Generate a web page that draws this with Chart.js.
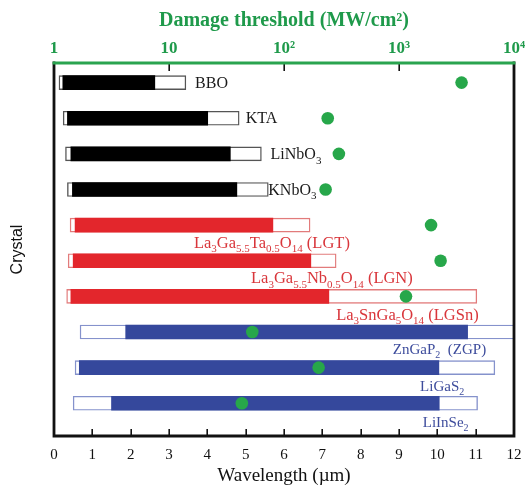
<!DOCTYPE html>
<html>
<head>
<meta charset="utf-8">
<script src="https://cdn.jsdelivr.net/npm/chart.js@4"></script>
<style>
  html, body { margin: 0; padding: 0; background: #ffffff; }
  #c { display: block; }
</style>
</head>
<body>
<canvas id="c" width="526" height="495"></canvas>
<script>
// Nonlinear optical crystals: transparency window, working range and damage threshold
const crystals = ['BBO', 'KTA', 'LiNbO3', 'KNbO3', 'LGT', 'LGN', 'LGSn', 'ZGP', 'LiGaS2', 'LiInSe2'];
const crystalLabels = [
  'BBO', 'KTA', 'LiNbO_{3}', 'KNbO_{3}',
  'La_{3}Ga_{5.5}Ta_{0.5}O_{14} (LGT)',
  'La_{3}Ga_{5.5}Nb_{0.5}O_{14} (LGN)',
  'La_{3}SnGa_{5}O_{14} (LGSn)',
  'ZnGaP_{2}  (ZGP)', 'LiGaS_{2}', 'LiInSe_{2}'
];
const families = ['oxide', 'oxide', 'oxide', 'oxide', 'langasite', 'langasite', 'langasite', 'chalcogenide', 'chalcogenide', 'chalcogenide'];

// wavelength ranges, µm
const transparencyStart = [0.13, 0.24, 0.30, 0.35, 0.42, 0.37, 0.33, 0.68, 0.55, 0.50];
const transparencyEnd   = [3.44, 4.83, 5.41, 5.59, 6.68, 7.36, 11.03, 12.3, 11.50, 11.05];
const workingStart      = [0.23, 0.35, 0.44, 0.48, 0.55, 0.50, 0.44, 1.87, 0.66, 1.50];
const workingEnd        = [2.63, 4.01, 4.60, 4.77, 5.71, 6.70, 7.17, 10.79, 10.04, 10.05];

// laser damage threshold, MW/cm²
const damageThreshold = [3500, 240, 300, 230, 1900, 2300, 1150, 53, 200, 43];

const wavelengthTicks = [0, 1, 2, 3, 4, 5, 6, 7, 8, 9, 10, 11, 12];
const thresholdTicks = [1, 10, 100, 1000, 10000];
const thresholdTickText = ['1', '10', '10²', '10³', '10⁴'];

// styling
const GREEN = '#1f9a4b';
const DOT_GREEN = '#27a74a';
const palette = {
  oxide:        { fill: '#000000', edge: '#555555', text: '#1a1a1a', size: 16 },
  langasite:    { fill: '#e3262c', edge: '#e27b7b', text: '#d9363b', size: 16.5 },
  chalcogenide: { fill: '#35489c', edge: '#8592cc', text: '#3d4c9c', size: 15 }
};
// label anchor: left edge in µm, vertical offset from the bar centre in px
const labelPlacement = [
  { x: 3.68, dy: 0 }, { x: 5.00, dy: 0 }, { x: 5.65, dy: 0 }, { x: 5.59, dy: 0 },
  { x: 3.65, dy: 17 }, { x: 5.14, dy: 17 }, { x: 7.36, dy: 18 },
  { x: 8.84, dy: 17 }, { x: 9.55, dy: 18 }, { x: 9.62, dy: 19 }
];

const rows = crystals.map((_, i) => i);
const SERIF = '"Liberation Serif", "Times New Roman", serif';

function drawRich(ctx, text, x, yMid, size, color) {
  const sub = Math.round(size * 0.68);
  const parts = text.split(/_\{([^}]*)\}/);
  const base = yMid + size * 0.33;
  ctx.fillStyle = color;
  ctx.textBaseline = 'alphabetic';
  ctx.textAlign = 'left';
  let cx = x;
  parts.forEach((p, k) => {
    if (!p) return;
    const isSub = k % 2 === 1;
    ctx.font = (isSub ? sub : size) + 'px ' + SERIF;
    ctx.fillText(p, cx, isSub ? base + size * 0.28 : base);
    cx += ctx.measureText(p).width;
  });
}

const labelPlugin = {
  id: 'crystalLabels',
  afterDatasetDraw(chart, args) {
    if (args.index !== 1) return;
    const { ctx, scales } = chart;
    ctx.save();
    crystalLabels.forEach((t, i) => {
      const st = palette[families[i]];
      const pl = labelPlacement[i];
      const x = scales.x.getPixelForValue(pl.x);
      const y = scales.y.getPixelForValue(rows[i]) + pl.dy;
      drawRich(ctx, t, x, y, st.size, st.text);
    });
    ctx.restore();
  }
};

const framePlugin = {
  id: 'frame',
  afterDraw(chart) {
    const { ctx, chartArea: a, scales } = chart;
    ctx.save();
    ctx.lineCap = 'butt';
    ctx.strokeStyle = '#111111';
    ctx.lineWidth = 1.6;
    ctx.beginPath();
    wavelengthTicks.slice(1, -1).forEach(w => {
      const x = Math.round(scales.x.getPixelForValue(w)) + 0.2;
      ctx.moveTo(x, a.bottom); ctx.lineTo(x, a.bottom - 7);
    });
    thresholdTicks.slice(1, -1).forEach(v => {
      const x = Math.round(scales.x2.getPixelForValue(v)) + 0.2;
      ctx.moveTo(x, a.top); ctx.lineTo(x, a.top + 8);
    });
    ctx.stroke();
    ctx.lineWidth = 2.8;
    ctx.beginPath();
    ctx.moveTo(a.left, a.top - 1.4);
    ctx.lineTo(a.left, a.bottom);
    ctx.lineTo(a.right, a.bottom);
    ctx.lineTo(a.right, a.top - 1.4);
    ctx.stroke();
    ctx.strokeStyle = '#2aa44f';
    ctx.lineWidth = 2.8;
    ctx.beginPath();
    ctx.moveTo(a.left - 1.4, a.top);
    ctx.lineTo(a.right + 1.4, a.top);
    ctx.stroke();
    ctx.restore();
  }
};

new Chart(document.getElementById('c'), {
  type: 'bar',
  data: {
    datasets: [
      {
        label: 'Transparency',
        data: rows.map(i => ({ x: [transparencyStart[i], transparencyEnd[i]], y: i })),
        backgroundColor: '#ffffff',
        borderColor: families.map(f => palette[f].edge),
        borderWidth: 1.4,
        borderSkipped: false,
        barThickness: 14,
        grouped: false,
        order: 2,
        xAxisID: 'x', yAxisID: 'y'
      },
      {
        label: 'Working range',
        data: rows.map(i => ({ x: [workingStart[i], workingEnd[i]], y: i })),
        backgroundColor: families.map(f => palette[f].fill),
        borderWidth: 0,
        borderSkipped: false,
        barThickness: 14,
        grouped: false,
        order: 1,
        xAxisID: 'x', yAxisID: 'y'
      },
      {
        type: 'scatter',
        label: 'Damage threshold',
        data: rows.map(i => ({ x: damageThreshold[i], y: i })),
        backgroundColor: DOT_GREEN,
        borderWidth: 0,
        pointRadius: 6.3,
        order: 0,
        xAxisID: 'x2', yAxisID: 'y'
      }
    ]
  },
  options: {
    responsive: false,
    animation: false,
    indexAxis: 'y',
    layout: { padding: { right: 12, top: 0, bottom: 0, left: 0 } },
    plugins: { legend: { display: false }, tooltip: { enabled: false } },
    scales: {
      x: {
        type: 'linear', position: 'bottom', min: 0, max: 12,
        afterBuildTicks: s => { s.ticks = wavelengthTicks.map(v => ({ value: v })); },
        ticks: { autoSkip: false, maxRotation: 0, padding: 10, color: '#111111',
                 font: { family: SERIF, size: 15 } },
        grid: { display: false, drawTicks: false },
        border: { display: false },
        title: { display: true, text: 'Wavelength (µm)', color: '#111111',
                 font: { family: SERIF, size: 19 }, padding: { top: 0, bottom: 8 } },
        afterFit: s => { s.height = 59; s.paddingLeft = 0; s.paddingRight = 0; }
      },
      x2: {
        type: 'logarithmic', position: 'top', min: 1, max: 10000,
        afterBuildTicks: s => { s.ticks = thresholdTicks.map(v => ({ value: v })); },
        ticks: { autoSkip: false, maxRotation: 0, padding: 4, color: GREEN,
                 font: { family: SERIF, size: 17, weight: 'bold' },
                 callback: v => thresholdTickText[thresholdTicks.indexOf(v)] ?? '' },
        grid: { display: false, drawTicks: false },
        border: { display: false },
        title: { display: true, text: 'Damage threshold (MW/cm²)', color: GREEN,
                 font: { family: SERIF, size: 20, weight: 'bold' }, padding: { top: 9, bottom: 0 } },
        afterFit: s => { s.height = 63; s.paddingLeft = 0; s.paddingRight = 0; }
      },
      y: {
        type: 'linear', reverse: true, min: -0.55, max: 9.92, offset: false,
        ticks: { display: false },
        grid: { display: false, drawTicks: false },
        border: { display: false },
        title: { display: true, text: 'Crystal', color: '#111111',
                 font: { family: '"Liberation Sans", Arial, sans-serif', size: 16 },
                 padding: { top: 8, bottom: 0 } },
        afterFit: s => { s.width = 54; }
      }
    }
  },
  plugins: [labelPlugin, framePlugin]
});
</script>
</body>
</html>
